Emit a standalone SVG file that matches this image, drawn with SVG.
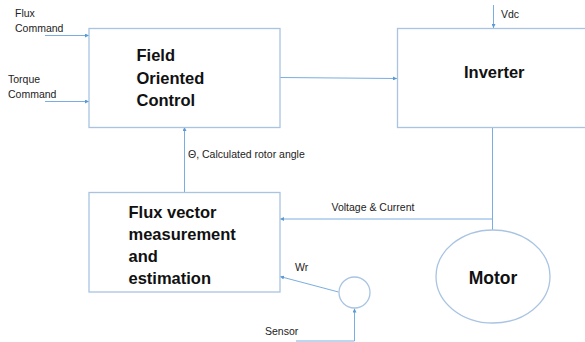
<svg xmlns="http://www.w3.org/2000/svg" width="585" height="342" viewBox="0 0 585 342">
<style>
.box{fill:#ffffff;stroke:#a9c4e2;stroke-width:1.3}
.ln{fill:none;stroke:#7aaee0;stroke-width:1;marker-end:url(#ah)}
.ln0{fill:none;stroke:#7aaee0;stroke-width:1}
.big{font-family:"Liberation Sans",Arial,sans-serif;font-weight:bold;font-size:16.5px;fill:#111}
.sm{font-family:"Liberation Sans",Arial,sans-serif;font-size:10.5px;fill:#222}
</style>
<defs>
<marker id="ah" viewBox="0 0 6 6" refX="6" refY="3" markerWidth="4" markerHeight="4" orient="auto" markerUnits="userSpaceOnUse">
<path d="M0,0 L6,3 L0,6 Z" fill="#5b9bd5"/>
</marker>
</defs>
<rect width="585" height="342" fill="#ffffff"/>
<g id="connectors">
<line class="ln" x1="45" y1="35.5" x2="89" y2="35.5"/>
<line class="ln" x1="45" y1="101.5" x2="89" y2="101.5"/>
<line class="ln" x1="280" y1="77.5" x2="397" y2="78.5"/>
<line class="ln" x1="493.5" y1="5" x2="493.5" y2="28"/>
<line class="ln" x1="184.5" y1="192" x2="184.5" y2="127"/>
<line class="ln0" x1="492.5" y1="127" x2="492.5" y2="230"/>
<line class="ln" x1="492.5" y1="219" x2="280" y2="219"/>
<line class="ln" x1="338.5" y1="292" x2="280" y2="276.5"/>
<polyline class="ln" points="296,341 354.5,341 354.5,308.5"/>
</g>
<g id="flux-command"><text class="sm" x="15" y="17">Flux</text><text class="sm" x="15" y="31.5">Command</text></g>
<g id="torque-command"><text class="sm" x="8" y="83">Torque</text><text class="sm" x="8" y="97.5">Command</text></g>
<g id="foc">
<rect class="box" x="89" y="28.5" width="191" height="99"/>
<text class="big" x="136.5" y="61">Field</text>
<text class="big" x="136.5" y="83.5">Oriented</text>
<text class="big" x="136.5" y="106">Control</text>
</g>
<g id="inverter">
<rect class="box" x="397.5" y="28.5" width="200" height="99"/>
<text class="big" x="464" y="78">Inverter</text>
<text class="sm" x="501" y="18">Vdc</text>
</g>
<g id="theta-label"><text class="sm" x="188" y="157.5">Θ, Calculated rotor angle</text></g>
<g id="flux-est">
<rect class="box" x="89" y="192.5" width="191" height="99.5"/>
<text class="big" x="128.5" y="217.5">Flux vector</text>
<text class="big" x="128.5" y="239.5">measurement</text>
<text class="big" x="128.5" y="261.5">and</text>
<text class="big" x="128.5" y="284">estimation</text>
</g>
<g id="vi-label"><text class="sm" x="331.5" y="210.5">Voltage &amp; Current</text></g>
<g id="motor">
<ellipse class="box" cx="493" cy="276.5" rx="57" ry="46.5"/>
<text class="big" x="493" y="283.5" text-anchor="middle" style="font-size:17.5px">Motor</text>
</g>
<g id="sensor-circle"><circle class="box" cx="354.5" cy="292.5" r="15.5"/></g>
<g id="wr-label"><text class="sm" x="295" y="270.5">Wr</text></g>
<g id="sensor-label"><text class="sm" x="265" y="334.5">Sensor</text></g>
</svg>
